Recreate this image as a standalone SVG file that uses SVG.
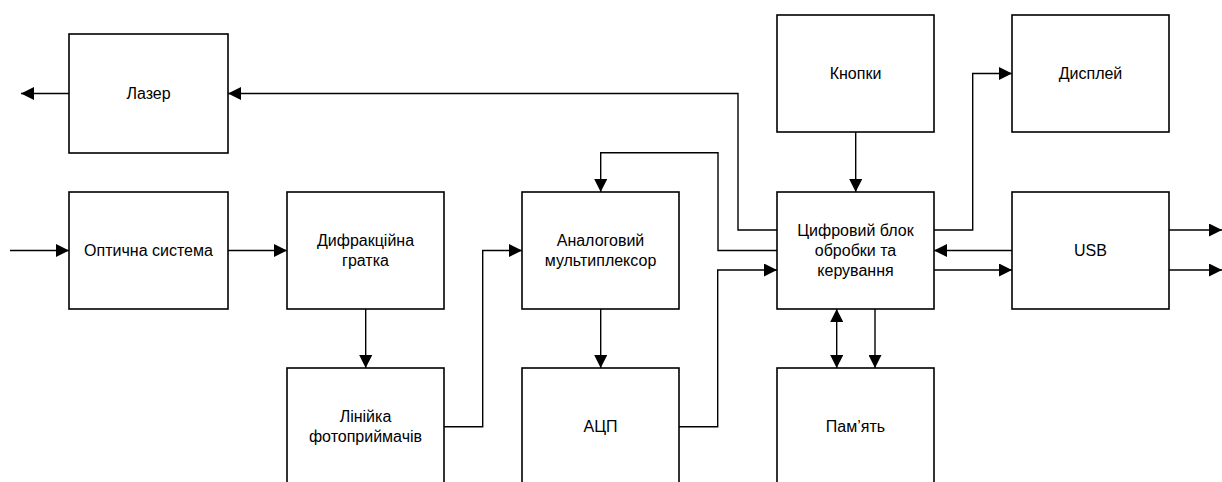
<svg xmlns="http://www.w3.org/2000/svg" width="1222" height="482" viewBox="0 0 1222 482">
<style>
.box{fill:#fff;stroke:#000;stroke-width:1.6}
.lbl{font-family:"Liberation Sans",Arial,sans-serif;font-size:16px;fill:#000;text-anchor:middle;dominant-baseline:central}
.c{fill:none;stroke:#000;stroke-width:1.4}
.a{marker-end:url(#ah)}
.b{marker-start:url(#ahs);marker-end:url(#ah)}
</style>
<defs>
<marker id="ah" markerUnits="userSpaceOnUse" markerWidth="13" markerHeight="13" refX="13" refY="6.5" orient="auto" viewBox="0 0 13 13"><path d="M0,0 L13,6.5 L0,13 z" fill="#000"/></marker>
<marker id="ahs" markerUnits="userSpaceOnUse" markerWidth="13" markerHeight="13" refX="13" refY="6.5" orient="auto-start-reverse" viewBox="0 0 13 13"><path d="M0,0 L13,6.5 L0,13 z" fill="#000"/></marker>
</defs>
<rect width="1222" height="482" fill="#fff"/>
<g id="connectors">
<path class="c a" d="M69,93.5 H21"/>
<path class="c a" d="M10,250.5 H69"/>
<path class="c a" d="M228,250.5 H287"/>
<path class="c a" d="M777,230 H738 V93.5 H228"/>
<path class="c a" d="M777,250.5 H718 V152.7 H600.7 V192"/>
<path class="c a" d="M679,426.7 H717.7 V270 H777"/>
<path class="c a" d="M444,426.7 H482.7 V250.5 H522"/>
<path class="c a" d="M365.7,309 V368"/>
<path class="c a" d="M600.7,309 V368"/>
<path class="c a" d="M855.7,132 V192"/>
<path class="c a" d="M934,230 H972.7 V73.5 H1012"/>
<path class="c a" d="M1012,250.5 H934"/>
<path class="c a" d="M934,270 H1012"/>
<path class="c a" d="M1169,230 H1222"/>
<path class="c a" d="M1169,270 H1222"/>
<path class="c b" d="M836.7,309 V368"/>
<path class="c a" d="M875,309 V368"/>
</g>
<g id="laser"><rect class="box" x="69" y="34" width="159" height="119"/><text class="lbl" x="148.5" y="93.5">Лазер</text></g>
<g id="optics"><rect class="box" x="69" y="192" width="159" height="117"/><text class="lbl" x="148.5" y="250.5">Оптична система</text></g>
<g id="grating"><rect class="box" x="287" y="192" width="157" height="117"/><text class="lbl" x="365.5" y="240.5">Дифракційна</text><text class="lbl" x="365.5" y="260.5">гратка</text></g>
<g id="photo"><rect class="box" x="287" y="368" width="157" height="117"/><text class="lbl" x="365.5" y="416.7">Лінійка</text><text class="lbl" x="365.5" y="436.7">фотоприймачів</text></g>
<g id="mux"><rect class="box" x="522" y="192" width="157" height="117"/><text class="lbl" x="600.5" y="240.5">Аналоговий</text><text class="lbl" x="600.5" y="260.5">мультиплексор</text></g>
<g id="adc"><rect class="box" x="522" y="368" width="157" height="117"/><text class="lbl" x="600.5" y="426.7">АЦП</text></g>
<g id="buttons"><rect class="box" x="777" y="15" width="157" height="117"/><text class="lbl" x="855.5" y="73.5">Кнопки</text></g>
<g id="cpu"><rect class="box" x="777" y="192" width="157" height="117"/><text class="lbl" x="855.5" y="230.5">Цифровий блок</text><text class="lbl" x="855.5" y="250.5">обробки та</text><text class="lbl" x="855.5" y="270.5">керування</text></g>
<g id="memory"><rect class="box" x="777" y="368" width="157" height="117"/><text class="lbl" x="855.5" y="426.7">Пам’ять</text></g>
<g id="display"><rect class="box" x="1012" y="15" width="157" height="117"/><text class="lbl" x="1090.5" y="73.5">Дисплей</text></g>
<g id="usb"><rect class="box" x="1012" y="192" width="157" height="117"/><text class="lbl" x="1090.5" y="250.5">USB</text></g>
</svg>
